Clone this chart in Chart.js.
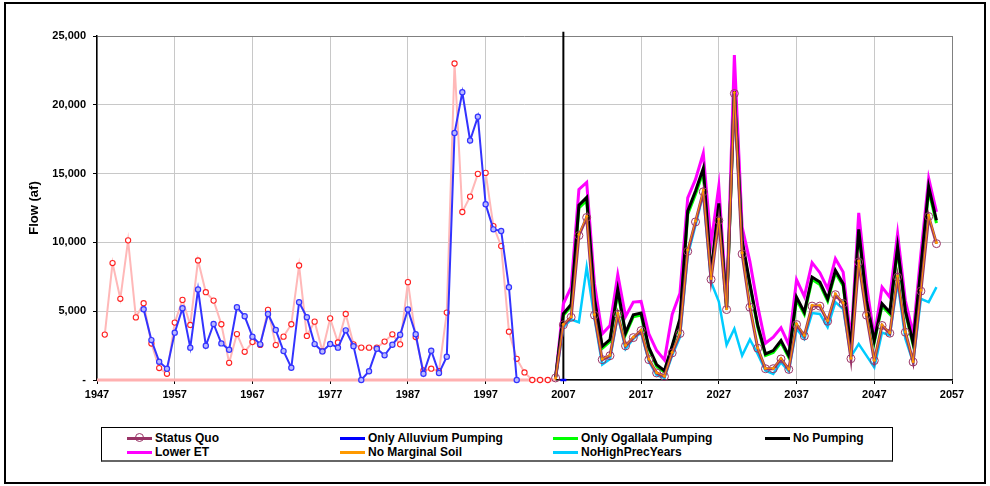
<!DOCTYPE html>
<html><head><meta charset="utf-8">
<script src="https://cdn.jsdelivr.net/npm/chart.js@4.4.1/dist/chart.umd.min.js"></script>
<style>
html,body{margin:0;padding:0;background:#fff;}
#wrap{position:relative;width:990px;height:486px;overflow:hidden;background:#fff;}
#frame{position:absolute;left:4px;top:2px;width:982px;height:482px;border:2px solid #000;box-sizing:border-box;pointer-events:none;}
#c{position:absolute;left:0;top:0;}
#legend{position:absolute;left:101px;top:427px;width:792px;height:35px;border:1px solid #000;border-bottom:2px solid #666;box-sizing:border-box;font:bold 12px "Liberation Sans",Arial,sans-serif;color:#000;background:#fff;}
.item{position:absolute;height:14px;line-height:14px;white-space:nowrap;}
.sw{position:absolute;left:0;top:6px;width:25px;height:3px;}
.mk{position:absolute;left:8px;top:2px;width:7px;height:7px;border:1px solid #993366;border-radius:50%;}
.lbl{position:absolute;left:28px;top:0;}
</style></head>
<body>
<div id="wrap">
<canvas id="c" width="990" height="486"></canvas>
<div id="legend"></div>
<div id="frame"></div>
</div>
<script>
// ---------- DATA ----------
const xTickLabels = [1947,1957,1967,1977,1987,1997,2007,2017,2027,2037,2047,2057];
const yTickStep = 5000;
const dividerYear = 2007;

function range(a,b){const r=[];for(let y=a;y<=b;y++)r.push(y);return r;}

// Historical record (red circles)
const histRedYears = range(1948,2005);
const histRed = [3300,8500,5900,10150,4550,5580,2650,870,450,4170,
  5820,4000,8690,6380,5770,4050,1250,3340,2050,2760,
  2550,5100,2540,3150,4050,8320,3200,4240,2100,4480,
  2730,4800,2590,2350,2350,2350,2790,3320,2590,7110,
  3120,690,820,640,4900,23000,12210,13330,14980,15050,
  11190,9730,3510,1540,550,0,0,0];

// Historical simulated (blue circles)
const histBlueYears = range(1953,2001);
const histBlue = [5140,2900,1330,820,3440,5210,2350,6580,2490,4070,
  2660,2200,5290,4630,3150,2590,4800,3630,2100,890,
  5650,4560,2610,2080,2620,2350,3610,2460,0,640,
  2270,1790,2560,3290,5120,3320,450,2130,500,1690,
  17950,20910,17410,19140,12770,10950,10830,6740,0];

// Zero baseline series (pink)
const zeroYears = range(1947,2006);
const zeroVals = zeroYears.map(()=>0);

// Scenario projections
const futureYears = range(2006,2055);
const statusQuo = [150,4010,4560,10500,11810,4710,1480,1770,4780,2480,
  3080,3590,1480,510,260,1970,3380,9350,11490,13680,
  7310,11590,5120,20820,9160,5290,2310,820,820,1530,
  770,4030,3200,5370,5370,4270,6200,5560,1550,8570,
  4710,1410,3960,3400,7480,3470,1310,6460,11880,9910];
const noMarginalSoil = [150,4050,4600,10600,11900,4760,1520,1810,4850,2520,
  3120,3640,1520,540,290,2010,3420,9450,11580,13800,
  7380,11700,5170,20900,9250,5340,2350,850,860,1570,
  800,4090,3250,5430,5430,4320,6270,5620,1580,8650,
  4760,1440,4010,3450,7560,3510,1340,6530,11980,10000];
const noPumping = [200,4820,5490,12710,13270,5900,2450,2940,6580,3430,
  4740,4860,2380,1120,680,2500,4450,12270,13730,15380,
  7730,12830,5250,21000,10150,7000,4000,1900,2140,2870,
  1770,6020,4930,7480,7120,5900,7970,7000,2260,10940,
  5780,2870,5540,4930,9670,5050,2670,8200,14040,11610];
const onlyOgallala = [180,4700,5350,12500,13050,5750,2300,2800,6400,3300,
  4600,4720,2250,1000,580,2380,4300,12050,13500,15150,
  7600,12600,5150,20900,9950,6850,3850,1780,2000,2720,
  1650,5850,4780,7300,6950,5750,7800,6850,2150,10750,
  5620,2740,5380,4780,9480,4900,2550,8000,13800,11400];
const lowerET = [200,5540,6750,13850,14360,7000,3350,3960,7650,4610,
  5660,5710,3350,2140,1460,4760,6310,13240,14580,16480,
  9910,14090,5560,23620,11120,8600,5400,2670,3110,3790,
  2570,7290,6070,8530,7800,6630,8820,7840,2870,12150,
  6900,3110,6750,6020,10640,5780,3350,9200,14650,12220];
const noHighPrecYears = [100,3840,4400,4200,8200,4500,1120,1530,4690,2260,
  3000,3450,1360,350,150,1800,3110,9060,11250,13560,
  7120,5700,2550,3720,1780,2950,1900,680,440,1280,
  630,3720,2990,4860,4800,3840,5660,5150,1700,2620,
  1770,920,3450,3250,7120,3000,1280,5900,5660,6750];
const alluviumYears = [2007];
const onlyAlluvium = [0];

// ---------- BUILD ----------
const xy = (ys, vs) => ys.map((y,i)=>({x:y, y:vs[i]}));

const datasets = [
  {label:'No Marginal Soil', data:xy(futureYears,noMarginalSoil), borderColor:'#FF9900', borderWidth:1,
   pointRadius:1.5, pointBackgroundColor:'#FF9900', pointBorderWidth:0, legendIdx:5},
  {label:'Status Quo', data:xy(futureYears,statusQuo), borderColor:'#993366', borderWidth:3,
   pointRadius:4, pointStyle:'circle', pointBorderColor:'#993366', pointBackgroundColor:'rgba(0,0,0,0)', pointBorderWidth:1, legendIdx:0},
  {label:'No Pumping', data:xy(futureYears,noPumping), borderColor:'#000000', borderWidth:3, pointRadius:0, legendIdx:3},
  {label:'Only Ogallala Pumping', data:xy(futureYears,onlyOgallala), borderColor:'#00FF00', borderWidth:3, pointRadius:0, legendIdx:2},
  {label:'Lower ET', data:xy(futureYears,lowerET), borderColor:'#FF00FF', borderWidth:3, pointRadius:0, legendIdx:4},
  {label:'NoHighPrecYears', data:xy(futureYears,noHighPrecYears), borderColor:'#00CCFF', borderWidth:2.5, pointRadius:0, legendIdx:6},
  {label:'Only Alluvium Pumping', data:xy(alluviumYears,onlyAlluvium), borderColor:'#0000FF', borderWidth:3,
   pointStyle:'line', pointRadius:3, pointBorderColor:'#0000FF', pointBorderWidth:2.5, legendIdx:1},
  {label:'hist-blue', data:xy(histBlueYears,histBlue), borderColor:'#3333FF', borderWidth:2,
   pointRadius:2.6, pointBorderColor:'#3333FF', pointBackgroundColor:'#B8B8FF', pointBorderWidth:1.2},
  {label:'hist-red', data:xy(histRedYears,histRed), borderColor:'#FFB8B8', borderWidth:2,
   pointRadius:2.6, pointBorderColor:'#FF2020', pointBackgroundColor:'#FFFFFF', pointBorderWidth:1.1},
  {label:'zero', data:xy(zeroYears,zeroVals), borderColor:'#FFB0B0', borderWidth:3, pointRadius:0},
  {label:'divider', data:[{x:dividerYear,y:0},{x:dividerYear,y:25300}], borderColor:'#000', borderWidth:2, pointRadius:0}
];
datasets.forEach(d=>{d.clip=false; d.tension=0; d.fill=false;});

const FONT = '"Liberation Sans", Arial, sans-serif';

const chart = new Chart(document.getElementById('c'), {
  type:'line',
  data:{datasets},
  options:{
    responsive:false, animation:false, devicePixelRatio:1,
    layout:{padding:{left:0, top:36, right:38, bottom:82}},
    plugins:{legend:{display:false}, tooltip:{enabled:false}},
    scales:{
      x:{type:'linear', min:1947, max:2057,
        afterBuildTicks:s=>{s.ticks = xTickLabels.map(v=>({value:v}));},
        afterFit:s=>{s.height = 24;},
        ticks:{autoSkip:false, maxRotation:0, padding:4, color:'#000',
          font:{family:FONT, size:11, weight:'bold'}, callback:v=>String(v)},
        grid:{color:c=> (c.tick && c.tick.value===2057) ? '#808080' : '#C8C8C8', lineWidth:1,
          tickColor:'#000', tickLength:4, drawTicks:true},
        border:{color:'#000', width:1.5}
      },
      y:{min:0, max:25000,
        afterFit:s=>{s.width = 97;},
        ticks:{stepSize:yTickStep, padding:7, color:'#000',
          font:{family:FONT, size:11, weight:'bold'},
          callback:v=> v===0 ? '-' : v.toLocaleString('en-US')},
        grid:{color:c=> (c.tick && c.tick.value===25000) ? '#808080' : '#C8C8C8', lineWidth:1,
          tickColor:'#000', tickLength:4, drawTicks:true},
        border:{color:'#000', width:1.5},
        title:{display:true, text:'Flow (af)', color:'#000', font:{family:FONT, size:13, weight:'bold'},
          padding:{top:27, bottom:0}}
      }
    }
  }
});

// ---------- HTML legend from datasets ----------
const legendCols = [0, 213, 426, 638];
const legendRows = [3, 17];
const leg = document.getElementById('legend');
chart.data.datasets.filter(d=>d.legendIdx!==undefined)
  .sort((a,b)=>a.legendIdx-b.legendIdx)
  .forEach(d=>{
    const i = d.legendIdx;
    const it = document.createElement('div');
    it.className='item';
    it.style.left = (25 + legendCols[i%4]) + 'px';
    it.style.top = legendRows[Math.floor(i/4)] + 'px';
    const sw = document.createElement('div'); sw.className='sw'; sw.style.background=d.borderColor; it.appendChild(sw);
    if (d.label==='Status Quo'){const mk=document.createElement('div'); mk.className='mk'; it.appendChild(mk);}
    const lb = document.createElement('div'); lb.className='lbl'; lb.textContent=d.label; it.appendChild(lb);
    leg.appendChild(it);
  });
</script>
</body></html>
